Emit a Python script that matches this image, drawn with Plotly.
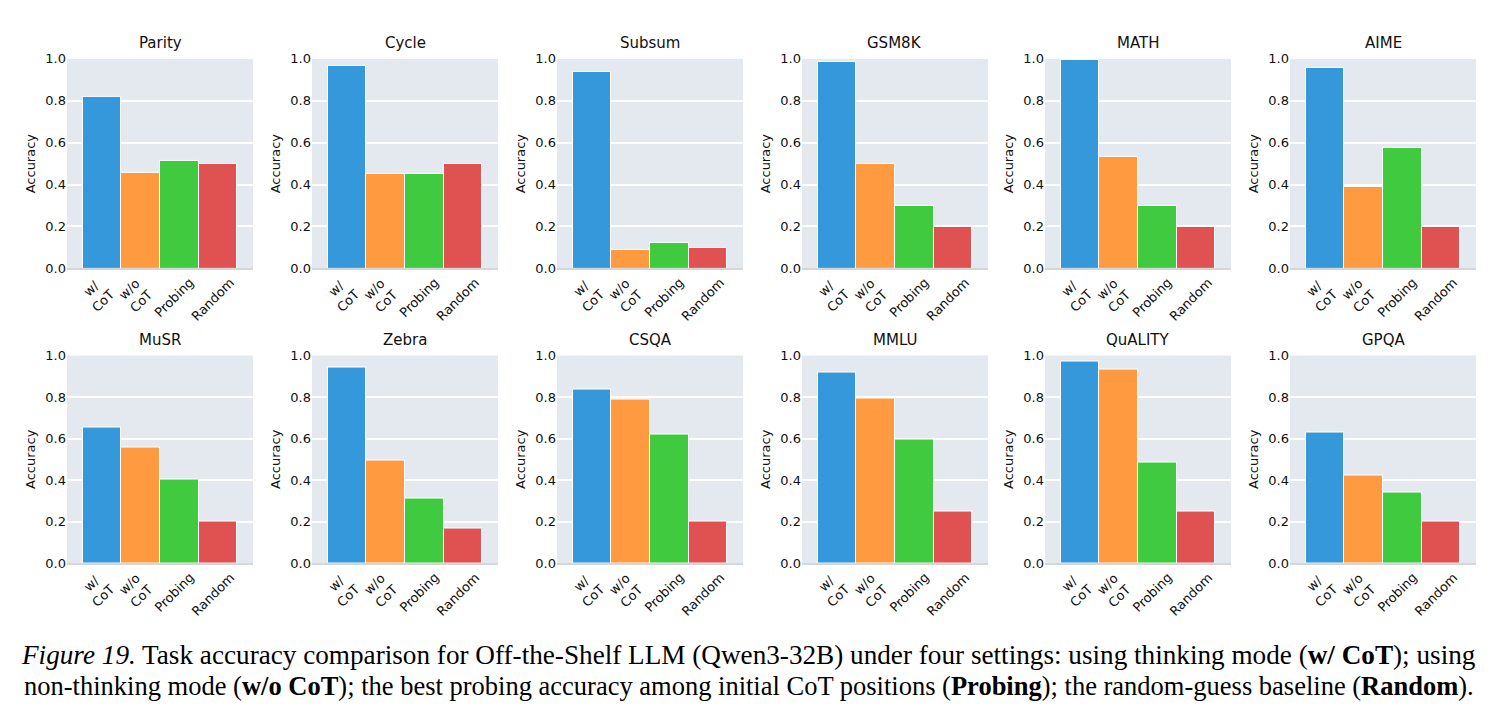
import plotly.graph_objects as go

tasks = ["Parity", "Cycle", "Subsum", "GSM8K", "MATH", "AIME",
         "MuSR", "Zebra", "CSQA", "MMLU", "QuALITY", "GPQA"]
settings = ["w/<br>CoT", "w/o<br>CoT", "Probing", "Random"]
w_cot   = [0.82, 0.969, 0.94, 0.987, 0.994, 0.955, 0.654, 0.944, 0.834, 0.918, 0.970, 0.628]
wo_cot  = [0.456, 0.453, 0.088, 0.50, 0.533, 0.388, 0.556, 0.495, 0.787, 0.795, 0.931, 0.42]
probing = [0.514, 0.453, 0.12, 0.30, 0.297, 0.573, 0.403, 0.31, 0.618, 0.597, 0.484, 0.34]
random_ = [0.50, 0.50, 0.10, 0.20, 0.20, 0.20, 0.20, 0.167, 0.20, 0.25, 0.25, 0.20]
colors = ["#3498db", "#ff9a40", "#40ca40", "#e05252"]

W, H = 1501, 716
col_left = [67, 312, 557, 802, 1045, 1290]
pw = 186
row_top = [53, 356]
ph = [214, 212]

fig = go.Figure()
annotations = []
for i, task in enumerate(tasks):
    r, c = divmod(i, 6)
    n = i + 1
    xa = "x" if n == 1 else f"x{n}"
    ya = "y" if n == 1 else f"y{n}"
    vals = [w_cot[i], wo_cot[i], probing[i], random_[i]]
    fig.add_trace(go.Bar(
        x=settings, y=vals, xaxis=xa, yaxis=ya,
        marker=dict(color=colors, line=dict(color="white", width=1)),
        showlegend=False, hoverinfo="skip"))
    x0 = col_left[c] / W
    x1 = (col_left[c] + pw) / W
    y1 = 1 - row_top[r] / H
    y0 = 1 - (row_top[r] + ph[r]) / H
    xkey = "xaxis" if n == 1 else f"xaxis{n}"
    ykey = "yaxis" if n == 1 else f"yaxis{n}"
    fig.update_layout(**{
        xkey: dict(domain=[x0, x1], anchor=ya, range=[-0.91, 3.91],
                   showticklabels=False, showgrid=False, ticks="",
                   showline=True, linecolor="#d4d6da", linewidth=1.5),
        ykey: dict(domain=[y0, y1], anchor=xa, range=[0, 1],
                   tickvals=[0, 0.2, 0.4, 0.6, 0.8, 1.0], tickformat=".1f",
                   showgrid=True, gridcolor="white", gridwidth=1.5,
                   zeroline=False, ticks="",
                   tickfont=dict(family="DejaVu Sans", size=13, color="#111"),
                   title=dict(text="Accuracy", standoff=6,
                              font=dict(family="DejaVu Sans", size=13, color="#111"))),
    })
    for s in settings:
        annotations.append(dict(
            text=s, xref=xa, yref=ya, x=s, y=0, xanchor="center", yanchor="top",
            yshift=-4, xshift=-5, textangle=-45, showarrow=False, align="center",
            font=dict(family="DejaVu Sans", size=13, color="#111")))
    annotations.append(dict(
        text=task, xref="paper", yref="paper",
        x=(x0 + x1) / 2, y=y1, xanchor="center", yanchor="bottom", yshift=5,
        showarrow=False, font=dict(family="DejaVu Sans", size=15, color="#111")))

annotations.append(dict(
    text="<i>Figure 19.</i> Task accuracy comparison for Off-the-Shelf LLM (Qwen3-32B) under four settings: using thinking mode (<b>w/ CoT</b>); using",
    xref="paper", yref="paper", x=(22 + 1475) / 2 / W, y=1 - 662 / H, xanchor="center", yanchor="middle",
    showarrow=False, font=dict(family="Liberation Serif", size=27.2, color="black")))
annotations.append(dict(
    text="non-thinking mode (<b>w/o CoT</b>); the best probing accuracy among initial CoT positions (<b>Probing</b>); the random-guess baseline (<b>Random</b>).",
    xref="paper", yref="paper", x=(22 + 1475) / 2 / W, y=1 - 694 / H, xanchor="center", yanchor="middle",
    showarrow=False, font=dict(family="Liberation Serif", size=26.5, color="black")))

fig.update_layout(
    width=W, height=H, margin=dict(l=0, r=0, t=0, b=0),
    paper_bgcolor="white", plot_bgcolor="#e4e8ef",
    bargap=0, annotations=annotations)

fig.write_html("out.html")
